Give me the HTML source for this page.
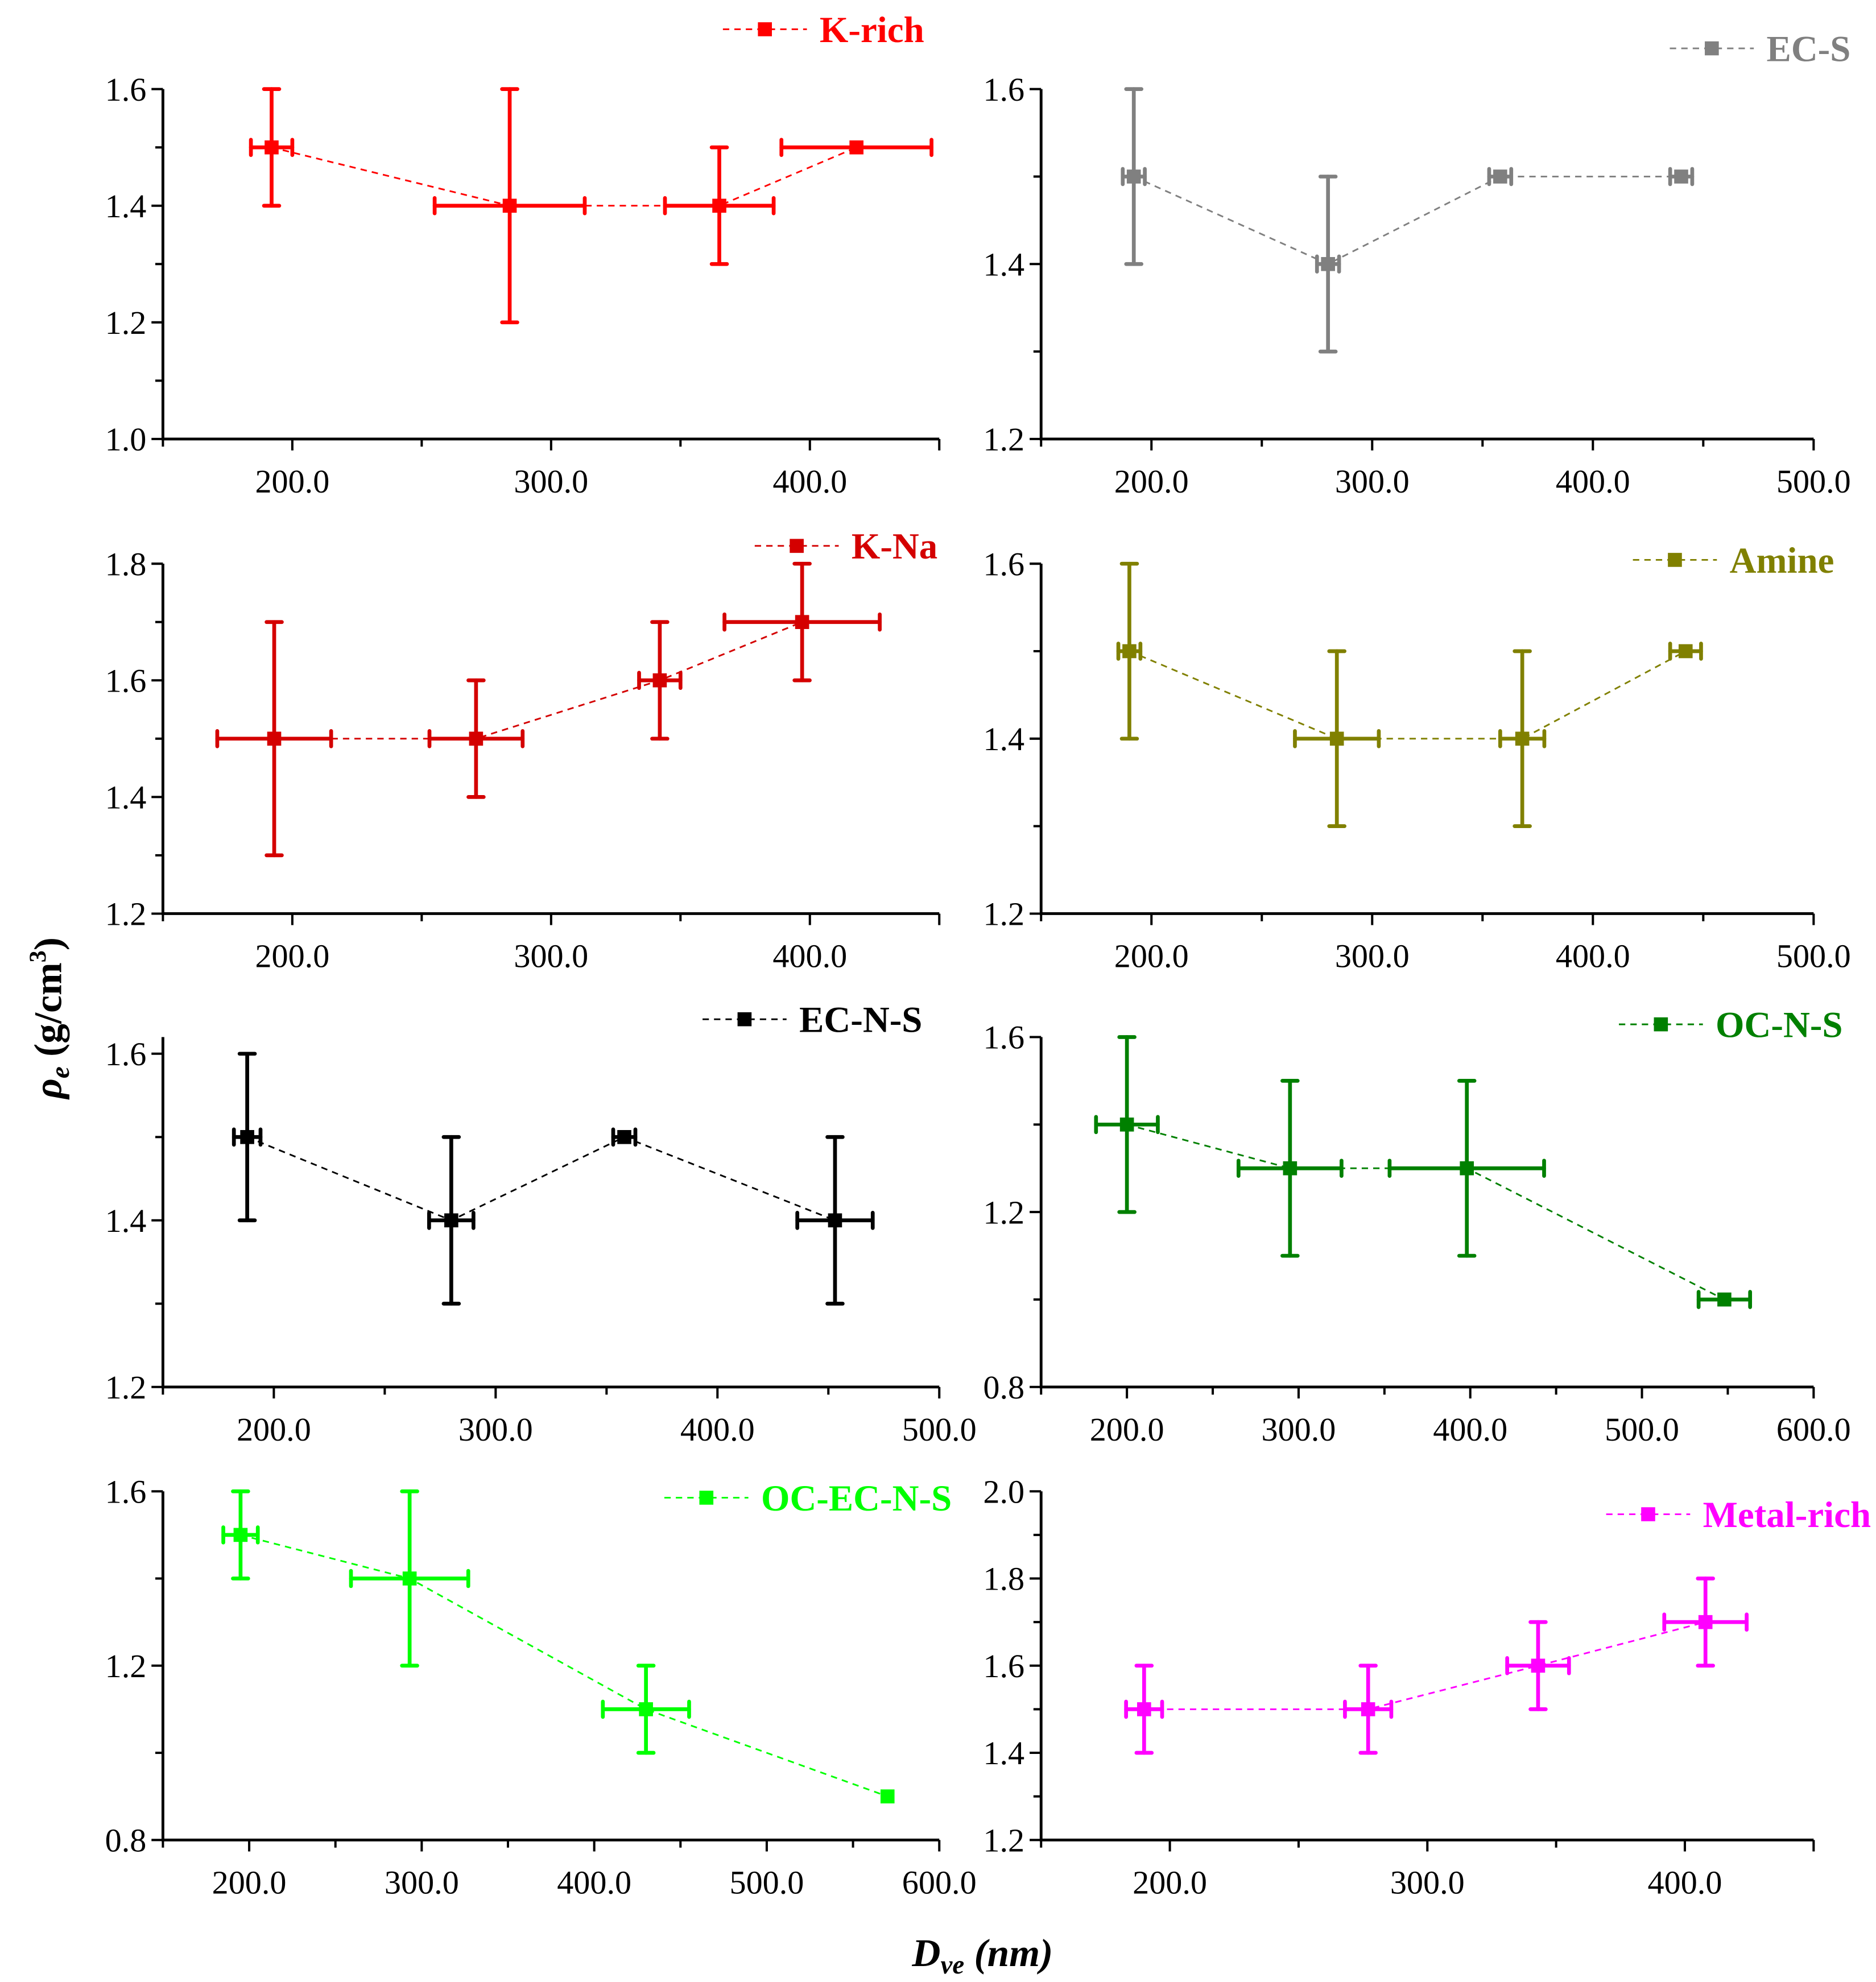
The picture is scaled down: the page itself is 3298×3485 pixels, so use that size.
<!DOCTYPE html>
<html><head><meta charset="utf-8"><style>
html,body{margin:0;padding:0;background:#fff}
svg{display:block}
text{font-family:"Liberation Serif",serif}
</style></head><body>
<svg id="chart" xmlns="http://www.w3.org/2000/svg" width="3298" height="3485" viewBox="0 0 1474 1557.6" font-family="Liberation Serif, serif">
<rect width="1474" height="1557.6" fill="#fff"/>
<text transform="translate(48,800) rotate(-90)" text-anchor="middle" font-size="31" font-weight="bold"><tspan font-style="italic">ρ</tspan><tspan font-style="italic" font-size="21" dy="6">e</tspan><tspan dy="-6">  (g/cm</tspan><tspan font-size="19" dy="-12">3</tspan><tspan dy="12">)</tspan></text>
<text x="772" y="1545" text-anchor="middle" font-size="31" font-weight="bold" font-style="italic">D<tspan font-size="21" dy="6">ve</tspan><tspan dy="-6"> (nm)</tspan></text>
</svg>
<script>
// Data per panel
const names = ["K-rich","EC-S","K-Na","Amine","EC-N-S","OC-N-S","OC-EC-N-S","Metal-rich"];
const colors = ["#ff0000","#808080","#d40000","#808000","#000000","#008000","#00ff00","#ff00ff"];
const xVals = [[192,284,365,418],[192,280,358,440],[193,271,342,397],[190,284,368,442],[188,280,358,453],[200,295,398,548],[195,293,430,570],[190,277,343,408]];
const yVals = [[1.5,1.4,1.4,1.5],[1.5,1.4,1.5,1.5],[1.5,1.5,1.6,1.7],[1.5,1.4,1.4,1.5],[1.5,1.4,1.5,1.4],[1.4,1.3,1.3,1.0],[1.5,1.4,1.1,0.9],[1.5,1.5,1.6,1.7]];
const xErr = [[8,29,21,29],[5,5,5,5],[22,18,8,30],[5,19,10,7],[6,10,5,17],[18,30,45,15],[10,34,25,0],[7,9,12,16]];
const yErr = [[0.1,0.2,0.1,0],[0.1,0.1,0,0],[0.2,0.1,0.1,0.1],[0.1,0.1,0.1,0],[0.1,0.1,0,0.1],[0.2,0.2,0.2,0],[0.1,0.2,0.1,0],[0.1,0.1,0.1,0.1]];
const xDomains = [[150,450],[150,500],[150,450],[150,500],[150,500],[150,600],[150,600],[150,450]];
const yDomains = [[1.0,1.6],[1.2,1.6],[1.2,1.8],[1.2,1.6],[1.2,1.62],[0.8,1.6],[0.8,1.6],[1.2,2.0]];
const xTicks = [[200,300,400],[200,300,400,500],[200,300,400],[200,300,400,500],[200,300,400,500],[200,300,400,500,600],[200,300,400,500,600],[200,300,400]];
const yTicks = [[1.0,1.2,1.4,1.6],[1.2,1.4,1.6],[1.2,1.4,1.6,1.8],[1.2,1.4,1.6],[1.2,1.4,1.6],[0.8,1.2,1.6],[0.8,1.2,1.6],[1.2,1.4,1.6,1.8,2.0]];
const yMinorStep = [0.1,0.1,0.1,0.1,0.1,0.2,0.2,0.1];
const legendPos = [[601,23],[1345,38],[626,429],[1316,440],[585,801],[1305,805],[555,1177],[1295,1190]];

const boxes = [[128,70,738,345],[818,70,1425,345],[128,443,738,718],[818,443,1425,718],[128,815,738,1090],[818,815,1425,1090],[128,1172,738,1446],[818,1172,1425,1446]];
const svg = document.getElementById('chart');
const NS = 'http://www.w3.org/2000/svg';
function mk(tag, attrs, parent){const e=document.createElementNS(NS,tag);for(const k in attrs)e.setAttribute(k,attrs[k]);parent.appendChild(e);return e;}

names.forEach((nm,p)=>{
  const [L,T,R,B]=boxes[p];
  const [x0,x1]=xDomains[p],[y0,y1]=yDomains[p];
  const sx=v=>L+(v-x0)/(x1-x0)*(R-L);
  const sy=v=>B-(v-y0)/(y1-y0)*(B-T);
  const slug=nm.toLowerCase();
  const g=mk('g',{},svg);
  
  
  const ax=mk('path',{d:`M${L},${T}V${B}H${R}`,stroke:'#000','stroke-width':2.2,fill:'none'},g);
  
  
  for(let v=x0; v<=x1+0.01; v+=50){
    mk('line',{x1:sx(v),x2:sx(v),y1:B,y2:B+(xTicks[p].includes(v)||v===x1?9:6),stroke:'#000','stroke-width':1.8},g);
  }
  xTicks[p].forEach(v=>{
    const t=mk('text',{x:sx(v),y:B+42,'text-anchor':'middle','font-size':26},g);
    t.textContent=v.toFixed(1);
    
    
  });
  const st=yMinorStep[p];
  for(let v=y0; v<=y1+1e-6; v+=st){
    const isMaj=yTicks[p].some(t=>Math.abs(t-v)<1e-6);
    mk('line',{x1:L,x2:L-(isMaj?9:6),y1:sy(v),y2:sy(v),stroke:'#000','stroke-width':1.8},g);
  }
  yTicks[p].forEach(v=>{
    const t=mk('text',{x:L-13,y:sy(v)+9,'text-anchor':'end','font-size':26},g);
    t.textContent=v.toFixed(1);
    
    
  });
  const c=colors[p];
  const pts=xVals[p].map((x,i)=>sx(x)+','+sy(yVals[p][i])).join(' ');
  const pl=mk('polyline',{points:pts,fill:'none',stroke:c,'stroke-width':1.3,'stroke-dasharray':'5,4'},g);
  
  
  xVals[p].forEach((x,i)=>{
    const y=yVals[p][i],cx=sx(x),cy=sy(y);
    const xe=xErr[p][i],ye=yErr[p][i];
    if(ye>0){
      mk('line',{x1:cx,x2:cx,y1:sy(y-ye),y2:sy(y+ye),stroke:c,'stroke-width':3,'stroke-linecap':'round'},g);
      [y-ye,y+ye].forEach(v=>mk('line',{x1:cx-6,x2:cx+6,y1:sy(v),y2:sy(v),stroke:c,'stroke-width':3,'stroke-linecap':'round'},g));
    }
    if(xe>0){
      mk('line',{x1:sx(x-xe),x2:sx(x+xe),y1:cy,y2:cy,stroke:c,'stroke-width':3,'stroke-linecap':'round'},g);
      [x-xe,x+xe].forEach(v=>mk('line',{x1:sx(v),x2:sx(v),y1:cy-6,y2:cy+6,stroke:c,'stroke-width':3,'stroke-linecap':'round'},g));
    }
    const m=mk('rect',{x:cx-5.5,y:cy-5.5,width:11,height:11,fill:c},g);
    
    
  });
  const [lx,ly]=legendPos[p];
  const lg=mk('g',{},g);
  
  
  mk('line',{x1:lx-33,x2:lx+33,y1:ly,y2:ly,stroke:c,'stroke-width':1.3,'stroke-dasharray':'5,4'},lg);
  mk('rect',{x:lx-5.5,y:ly-5.5,width:11,height:11,fill:c},lg);
  const lt=mk('text',{x:lx+43,y:ly+10,'font-size':29,'font-weight':'bold',fill:c},lg);
  lt.textContent=nm;
});
</script>
</body></html>
